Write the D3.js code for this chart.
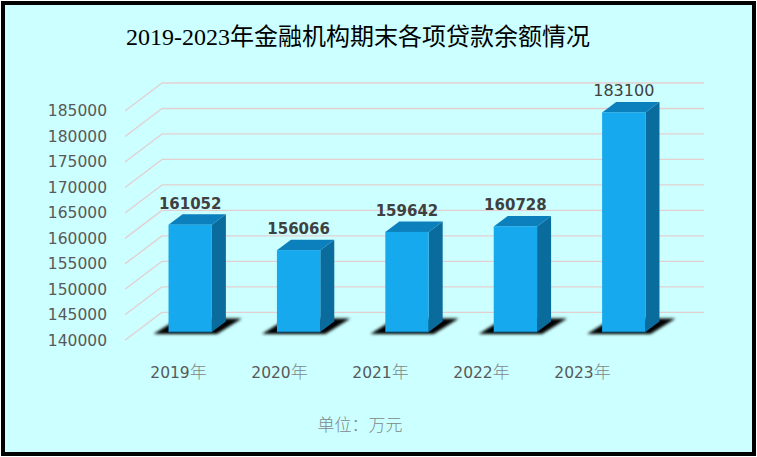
<!DOCTYPE html>
<html>
<head>
<meta charset="utf-8">
<script src="https://cdn.jsdelivr.net/npm/d3@7"></script>
<style>
  body { margin: 0; background: #fff; }
  svg { display: block; }
</style>
</head>
<body>
<svg id="chart" width="757" height="457"></svg>
<script>
const years = ['2019年', '2020年', '2021年', '2022年', '2023年'];
const loans = [161052, 156066, 159642, 160728, 183100];
const boldLabel = [true, true, true, true, false];
const yTicks = [140000, 145000, 150000, 155000, 160000, 165000, 170000, 175000, 180000, 185000];
const title = '2019-2023年金融机构期末各项贷款余额情况';
const unitText = '单位：万元';

const W = 757;
const H = 457;
// wall depth (back wall -> front edge of the floor)
const DEPTH = { x: -37, y: 28 };
// bar front plane offset from the back wall and bar depth
const BAR_FRONT = { x: -26, y: 19.7 };
const BAR_DEPTH = { x: 14, y: -10.5 };

main();

function main () {
  const svg = d3.select('#chart');

  const x = d3.scaleBand()
    .domain(years)
    .range([162, 704])
    .paddingInner(0.6)
    .paddingOuter(0.3);

  const y = d3.scaleLinear()
    .domain([140000, 185000])
    .range([312.3, 83]);

  // front of the floor, where the category labels sit
  const xLabel = d3.scaleBand()
    .domain(years)
    .range([128, 633]);

  drawFrame(svg);
  drawGrid(svg, y);
  drawAxis(svg, y);
  drawBars(svg, x, y);
  drawCategories(svg, xLabel);
}

function drawFrame (svg) {
  svg.append('rect')
    .attr('x', 3)
    .attr('y', 3)
    .attr('width', W - 6)
    .attr('height', H - 6)
    .attr('fill', '#CCFFFF')
    .attr('stroke', '#000')
    .attr('stroke-width', 4);

  svg.append('text')
    .text(title)
    .attr('x', 358)
    .attr('y', 45)
    .attr('text-anchor', 'middle')
    .attr('font-family', '"Liberation Serif", "Noto Sans CJK SC", serif')
    .attr('font-size', '24px')
    .attr('fill', '#000');

  svg.append('text')
    .text(unitText)
    .attr('x', 360)
    .attr('y', 431)
    .attr('text-anchor', 'middle')
    .attr('font-family', '"Noto Sans CJK SC", sans-serif')
    .attr('font-weight', 300)
    .attr('font-size', '17px')
    .attr('fill', '#7f8888');
}

function drawGrid (svg, y) {
  const g = svg.append('g')
    .attr('stroke', '#E4CFCF')
    .attr('stroke-width', 1.3)
    .attr('fill', 'none');

  for (let t of yTicks) {
    const yy = y(t);
    g.append('line')
      .attr('x1', 162)
      .attr('x2', 704)
      .attr('y1', yy)
      .attr('y2', yy);
    g.append('line')
      .attr('x1', 162 + DEPTH.x)
      .attr('x2', 162)
      .attr('y1', yy + DEPTH.y)
      .attr('y2', yy);
  }
}

function drawAxis (svg, y) {
  const yFront = y.copy().range(y.range().map(r => r + DEPTH.y));
  const axis = d3.axisLeft(yFront)
    .tickValues(yTicks)
    .tickSize(0)
    .tickPadding(0)
    .tickFormat(d3.format('d'));

  const g = svg.append('g')
    .attr('transform', 'translate(107,0)')
    .call(axis);

  g.select('.domain').remove();
  g.selectAll('text')
    .attr('font-family', '"DejaVu Sans", sans-serif')
    .attr('font-size', '15.5px')
    .attr('fill', '#595959');
}

function drawBars (svg, x, y) {
  const defs = svg.append('defs');
  defs.append('filter')
    .attr('id', 'shadowBlur')
    .attr('x', '-30%')
    .attr('y', '-50%')
    .attr('width', '160%')
    .attr('height', '200%')
    .append('feGaussianBlur')
    .attr('stdDeviation', 1.8);

  const bw = x.bandwidth();

  loans.forEach((v, i) => {
    const x0 = x(years[i]) + BAR_FRONT.x;
    const x1 = x0 + bw;
    const yb = y(140000) + BAR_FRONT.y;
    const yt = y(v) + BAR_FRONT.y;
    const dx = BAR_DEPTH.x;
    const dy = BAR_DEPTH.y;

    // floor shadow
    svg.append('polygon')
      .attr('points', [
        [x0 - 15, yb + 2], [x1 + 5, yb + 2],
        [x1 + 30, yb - 13.5], [x0 + 10, yb - 13.5]
      ].map(p => p.join(',')).join(' '))
      .attr('fill', '#000')
      .attr('filter', 'url(#shadowBlur)');

    // side
    svg.append('polygon')
      .attr('points', [
        [x1, yt], [x1 + dx, yt + dy], [x1 + dx, yb + dy], [x1, yb]
      ].map(p => p.join(',')).join(' '))
      .attr('fill', '#0A6B9D');

    // top
    svg.append('polygon')
      .attr('points', [
        [x0, yt], [x1, yt], [x1 + dx, yt + dy], [x0 + dx, yt + dy]
      ].map(p => p.join(',')).join(' '))
      .attr('fill', '#0C80BD');

    // front
    svg.append('rect')
      .attr('x', x0)
      .attr('y', yt)
      .attr('width', bw)
      .attr('height', yb - yt)
      .attr('fill', '#17A9EE');

    svg.append('line')
      .attr('x1', x0)
      .attr('x2', x1)
      .attr('y1', yb)
      .attr('y2', yb)
      .attr('stroke', '#0A5F8C')
      .attr('stroke-width', 1);

    // value label
    svg.append('text')
      .text(v)
      .attr('x', x0 + bw / 2)
      .attr('y', yt + dy - 5.5)
      .attr('text-anchor', 'middle')
      .attr('font-family', '"DejaVu Sans", sans-serif')
      .attr('font-size', boldLabel[i] ? '15px' : '16px')
      .attr('font-weight', boldLabel[i] ? 'bold' : 'normal')
      .attr('fill', '#404040');
  });
}

function drawCategories (svg, xLabel) {
  const t = svg.append('g')
    .selectAll('text')
    .data(years)
    .join('text')
    .attr('x', d => xLabel(d) + xLabel.bandwidth() / 2)
    .attr('y', 378)
    .attr('text-anchor', 'middle')
    .attr('font-family', '"DejaVu Sans", sans-serif')
    .attr('font-size', '15.5px')
    .attr('fill', '#595959');

  // digits and the 年 are set in different faces, as in the source
  t.append('tspan').text(d => d.slice(0, 4));
  t.append('tspan')
    .text(d => d.slice(4))
    .attr('font-family', '"Noto Sans CJK SC", sans-serif')
    .attr('font-weight', 300)
    .attr('font-size', '17px')
    .attr('fill', '#7f8888');
}
</script>
</body>
</html>
